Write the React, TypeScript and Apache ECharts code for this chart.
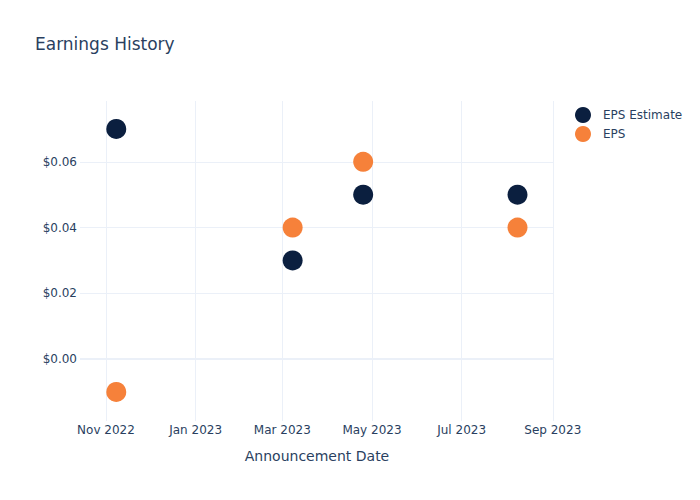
import React, { useEffect, useRef } from "react";
import * as echarts from "echarts";

const announcementDates = ["2022-11-08", "2023-03-08", "2023-04-25", "2023-08-08"];
const epsEstimate = [0.07, 0.03, 0.05, 0.05];
const epsActual = [-0.01, 0.04, 0.06, 0.04];
const xTickDates = ["2022-11-01", "2023-01-01", "2023-03-01", "2023-05-01", "2023-07-01", "2023-09-01"];
const yTickValues = [0, 0.02, 0.04, 0.06];
const monthNames = ["Jan", "Feb", "Mar", "Apr", "May", "Jun", "Jul", "Aug", "Sep", "Oct", "Nov", "Dec"];

const toTs = (s: string) => {
  const [y, m, d] = s.split("-").map(Number);
  return Date.UTC(y, m - 1, d);
};

const TEXT = "#2a3f5f";
const GRID = "#EBF0F8";
const FONT = "DejaVu Sans";

export default function App() {
  const ref = useRef<HTMLDivElement>(null);
  useEffect(() => {
    if (!ref.current) return;
    const chart = echarts.init(ref.current, null, { renderer: "svg" });
    const xTicks = xTickDates.map(toTs);
    const option: any = {
      animation: false,
      textStyle: { fontFamily: FONT },
      title: {
        text: "Earnings History",
        left: 35,
        top: 35,
        padding: 0,
        textStyle: { fontSize: 17, fontWeight: "normal", color: TEXT, fontFamily: FONT },
      },
      legend: {
        orient: "vertical",
        left: 575,
        top: 107,
        icon: "circle",
        itemWidth: 24,
        itemHeight: 16,
        itemGap: 3,
        padding: 0,
        textStyle: { fontSize: 12, color: TEXT, fontFamily: FONT, padding: [0, 0, 0, 3] },
        data: ["EPS Estimate", "EPS"],
      },
      grid: { left: 80, right: 146, top: 101, bottom: 79, containLabel: false },
      xAxis: {
        type: "value",
        min: Date.UTC(2022, 9, 14, 8),
        max: Date.UTC(2023, 8, 1, 20),
        name: "Announcement Date",
        nameLocation: "middle",
        nameGap: 28,
        nameTextStyle: { fontSize: 14, color: TEXT, fontFamily: FONT },
        axisLine: { show: false },
        axisTick: { show: false },
        splitLine: { show: false },
        axisLabel: {
          customValues: xTicks,
          fontSize: 12,
          color: TEXT,
          fontFamily: FONT,
          margin: 3,
          formatter: (v: number) => {
            const d = new Date(v);
            return monthNames[d.getUTCMonth()] + " " + d.getUTCFullYear();
          },
        },
      },
      yAxis: {
        type: "value",
        min: -0.01885,
        max: 0.0785,
        axisLine: { show: false },
        axisTick: { show: false },
        splitLine: { show: false },
        axisLabel: {
          customValues: yTickValues,
          fontSize: 12,
          color: TEXT,
          fontFamily: FONT,
          margin: 3,
          formatter: (v: number) => (v < 0 ? "-$" : "$") + Math.abs(v).toFixed(2),
        },
      },
      series: [
        {
          type: "scatter",
          name: "_grid",
          data: [],
          silent: true,
          markLine: {
            silent: true,
            z: 1,
            symbol: "none",
            label: { show: false },
            emphasis: { disabled: true },
            data: [
              ...xTicks.map((t) => ({ xAxis: t, lineStyle: { color: GRID, width: 1, type: "solid" } })),
              ...yTickValues.map((v) => ({
                yAxis: v,
                lineStyle: { color: GRID, width: v === 0 ? 2 : 1, type: "solid" },
              })),
            ],
          },
        },
        {
          type: "scatter",
          name: "EPS Estimate",
          z: 3,
          symbolSize: 20,
          itemStyle: { color: "#0b1f3f", opacity: 1 },
          data: announcementDates.map((d, i) => [toTs(d), epsEstimate[i]]),
        },
        {
          type: "scatter",
          name: "EPS",
          z: 3,
          symbolSize: 20,
          itemStyle: { color: "#f6813a", opacity: 1 },
          data: announcementDates.map((d, i) => [toTs(d), epsActual[i]]),
        },
      ],
    };
    chart.setOption(option);
    return () => chart.dispose();
  }, []);
  return (
    <div
      ref={ref}
      style={{ position: "fixed", left: 0, top: 0, width: 700, height: 500, background: "#fff" }}
    />
  );
}
